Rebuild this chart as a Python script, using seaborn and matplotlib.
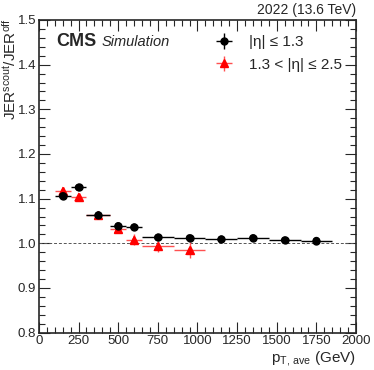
import numpy as np
import pandas as pd
import matplotlib
matplotlib.use("Agg")
import matplotlib.pyplot as plt
from matplotlib.ticker import MultipleLocator
import seaborn as sns

# bin edges in pT,ave (GeV)
edges_central = [100, 200, 300, 450, 550, 650, 850, 1050, 1250, 1450, 1650, 1850]
ratio_central = [1.106, 1.125, 1.063, 1.039, 1.036, 1.013, 1.012, 1.009, 1.012, 1.007, 1.006]
err_central = [0.003, 0.003, 0.003, 0.003, 0.003, 0.003, 0.003, 0.003, 0.003, 0.003, 0.003]

edges_fwd = [100, 200, 300, 450, 550, 650, 850, 1050]
ratio_fwd = [1.117, 1.104, 1.063, 1.032, 1.008, 0.993, 0.984]
err_fwd = [0.010, 0.006, 0.005, 0.007, 0.012, 0.012, 0.018]

label_c = "|η| ≤ 1.3"
label_f = "1.3 < |η| ≤ 2.5"


def to_df(edges, vals, errs, name):
    e = np.array(edges, dtype=float)
    return pd.DataFrame({
        "x": (e[:-1] + e[1:]) / 2,
        "xerr": (e[1:] - e[:-1]) / 2,
        "y": vals,
        "yerr": errs,
        "region": name,
    })


df_c = to_df(edges_central, ratio_central, err_central, label_c)
df_f = to_df(edges_fwd, ratio_fwd, err_fwd, label_f)

sns.set_theme(style="ticks")
plt.rcParams["font.family"] = ["Liberation Sans", "DejaVu Sans"]
plt.rcParams["mathtext.fontset"] = "custom"
plt.rcParams["mathtext.rm"] = "Liberation Sans"
plt.rcParams["mathtext.it"] = "Liberation Sans:italic"

fig = plt.figure(figsize=(3.74, 3.70), dpi=100)
ax = fig.add_axes([0.104, 0.101, 0.848, 0.845])

ax.axhline(1.0, color="#555555", lw=0.7, ls=(0, (3, 2)), zorder=1)

h1 = ax.errorbar(df_c.x, df_c.y, xerr=df_c.xerr, yerr=df_c.yerr, fmt="o", color="black",
                 ms=5, elinewidth=1.0, capsize=0, label=label_c, zorder=3)
h2 = ax.errorbar(df_f.x, df_f.y, xerr=df_f.xerr, yerr=df_f.yerr, fmt="^", color="red",
                 ecolor="#ff5050", ms=6, elinewidth=1.0, capsize=0, label=label_f, zorder=2)
sns.scatterplot(data=df_f, x="x", y="y", marker="^", color="red", s=40, edgecolor="none",
                legend=False, ax=ax, zorder=2)
sns.scatterplot(data=df_c, x="x", y="y", marker="o", color="black", s=30, edgecolor="none",
                legend=False, ax=ax, zorder=3)

xticks = list(range(0, 2001, 250))
yticks = [0.8, 0.9, 1.0, 1.1, 1.2, 1.3, 1.4, 1.5]
ax.set_xticks(xticks)
ax.set_xticklabels([str(v) for v in xticks])
ax.set_yticks(yticks)
ax.set_yticklabels([f"{v:.1f}" for v in yticks])
ax.xaxis.set_minor_locator(MultipleLocator(50))
ax.yaxis.set_minor_locator(MultipleLocator(0.02))
ax.set_xlim(0, 2000)
ax.set_ylim(0.8, 1.5)
ax.tick_params(which="both", direction="in", top=True, right=True, labelsize=9.5, pad=2)
ax.tick_params(which="major", length=8, width=0.8)
ax.tick_params(which="minor", length=4, width=0.8)
for sp in ax.spines.values():
    sp.set_linewidth(1.2)

ax.set_xlabel(r"p$_{\mathrm{T,\,ave}}$ (GeV)", fontsize=11, loc="right", labelpad=1)
ax.set_ylabel("")
ax.text(-0.064, 1.006, r"JER$^{\mathrm{scout}}$/JER$^{\mathrm{off}}$", transform=ax.transAxes,
        rotation=90, ha="right", va="top", fontsize=11)

ax.text(1.0, 1.008, "2022 (13.6 TeV)", transform=ax.transAxes, ha="right", va="bottom", fontsize=10)
ax.text(0.054, 0.932, "CMS", transform=ax.transAxes, ha="left", va="center",
        fontsize=13, fontweight="bold")
ax.text(0.197, 0.93, "Simulation", transform=ax.transAxes, ha="left", va="center",
        fontsize=10.5, style="italic")

ax.legend(handles=[h1, h2], loc="upper right", bbox_to_anchor=(1.0, 0.995), frameon=False,
          fontsize=11, handlelength=1.5, handletextpad=0.9, labelspacing=0.55)

fig.savefig("out.png", dpi=100)
